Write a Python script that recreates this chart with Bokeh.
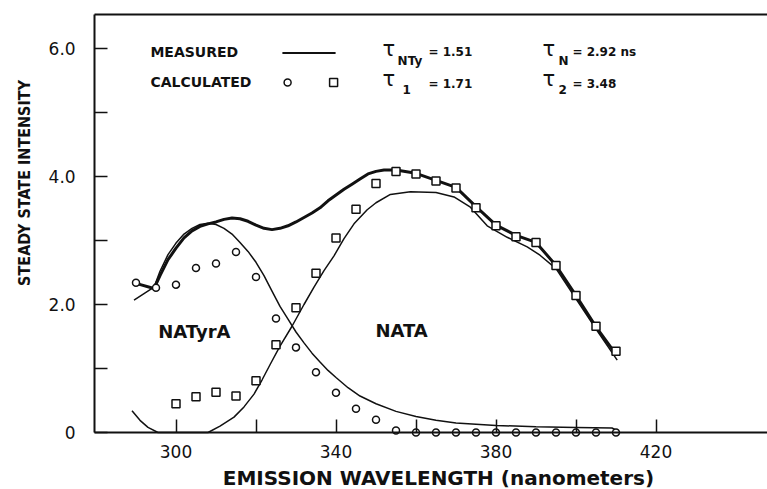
import math
from bokeh.plotting import figure
from bokeh.models import FixedTicker, CustomJSTickFormatter, Label, Range1d, LinearAxis
from bokeh.core.properties import value
from bokeh.embed import file_html
from bokeh.resources import INLINE

# ---------------- data ----------------
measured_x = [290, 294.5, 296, 298, 300, 302, 304, 306, 308, 310, 312, 314, 316, 318, 320,
              322, 324, 326, 328, 330, 332, 334, 336, 338, 340, 342, 344, 346, 348, 350,
              352, 355, 360, 365, 370, 375, 380, 385, 390, 395, 400, 405, 410]
measured_y = [2.33, 2.25, 2.45, 2.70, 2.88, 3.04, 3.15, 3.22, 3.26, 3.29, 3.33, 3.35, 3.34, 3.30, 3.24,
              3.19, 3.17, 3.19, 3.23, 3.29, 3.36, 3.43, 3.51, 3.62, 3.71, 3.80, 3.88, 3.96, 4.04, 4.08,
              4.10, 4.10, 4.05, 3.94, 3.83, 3.53, 3.24, 3.08, 2.97, 2.61, 2.14, 1.65, 1.22]

natyra_x = [289.5, 292, 294.5, 296, 298, 300, 302, 304, 306, 308, 310, 312, 314, 316, 318, 320,
            322, 324, 326, 328, 330, 332, 334, 336, 338, 340, 343, 346, 350, 355, 360, 365, 370,
            380, 390, 400, 409, 410.5]
natyra_y = [2.07, 2.17, 2.27, 2.52, 2.78, 2.96, 3.10, 3.19, 3.25, 3.27, 3.25, 3.19, 3.10, 2.97, 2.83, 2.66,
            2.45, 2.21, 1.97, 1.77, 1.57, 1.40, 1.24, 1.10, 0.97, 0.86, 0.70, 0.57, 0.45, 0.33, 0.25, 0.19, 0.15,
            0.11, 0.09, 0.08, 0.07, 0.02]

nata_x = [289, 291, 293, 295.5, 300, 304, 308, 311, 314.5, 317, 319.5, 321.5, 323.6, 326, 329, 332,
          334.5, 337, 339.5, 342, 344.5, 347.8, 350, 353.6, 358.6, 365, 369.5, 373.6, 377.8, 382.8,
          387.8, 391, 395, 400, 405.3, 410.3]
nata_y = [0.34, 0.19, 0.08, 0.0, 0.0, 0.0, 0.0, 0.10, 0.24, 0.40, 0.60, 0.82, 1.07, 1.35, 1.66, 2.00,
          2.27, 2.53, 2.76, 3.03, 3.26, 3.48, 3.59, 3.72, 3.76, 3.75, 3.68, 3.52, 3.23, 3.05,
          2.90, 2.77, 2.56, 2.09, 1.59, 1.13]

circle_x = [290, 295, 300, 305, 310, 315, 320, 325, 330, 335, 340, 345, 350, 355,
            360, 365, 370, 375, 380, 385, 390, 395, 400, 405, 410]
circle_y = [2.34, 2.26, 2.31, 2.57, 2.64, 2.82, 2.43, 1.78, 1.33, 0.94, 0.62, 0.37, 0.20, 0.03,
            0.0, 0.0, 0.0, 0.0, 0.0, 0.0, 0.0, 0.0, 0.0, 0.0, 0.0]

square_x = [300, 305, 310, 315, 320, 325, 330, 335, 340, 345, 350, 355, 360, 365, 370, 375,
            380, 385, 390, 395, 400, 405, 410]
square_y = [0.45, 0.56, 0.63, 0.57, 0.81, 1.37, 1.95, 2.49, 3.04, 3.49, 3.89, 4.08, 4.04, 3.93, 3.82, 3.51,
            3.23, 3.06, 2.97, 2.61, 2.14, 1.66, 1.27]

x_major_ticks = [300, 340, 380, 420]
x_minor_ticks = [320, 360, 400]
x_tick_labels = ["300", "340", "380", "420"]
y_major_ticks = [0, 2, 4, 6]
y_minor_ticks = [1, 3, 5]
y_tick_labels = ["0", "2.0", "4.0", "6.0"]

x_label = "EMISSION WAVELENGTH (nanometers)"
y_label = "STEADY STATE INTENSITY"

# ---------------- figure ----------------
INK = "#111111"
X0, X1 = 257.125, 447.875      # visible wavelength span of the frame
Y0, Y1 = -0.859375, 6.75       # visible intensity span of the frame
AXIS_X = 279.625               # where the intensity axis stands
TOP_Y = 6.53                   # top border of the box

p = figure(width=767, height=489, output_backend="svg", toolbar_location=None,
           x_range=Range1d(X0, X1), y_range=Range1d(Y0, Y1),
           x_axis_location=None, y_axis_location=None,
           min_border_left=4, min_border_right=0, min_border_top=0, min_border_bottom=2)
p.grid.visible = False
p.outline_line_color = None
p.background_fill_color = "white"
p.border_fill_color = "white"

blank = "return '';"
xa = LinearAxis(fixed_location=0, bounds=(AXIS_X, X1),
                ticker=FixedTicker(ticks=x_major_ticks, minor_ticks=x_minor_ticks),
                formatter=CustomJSTickFormatter(code=blank))
ya = LinearAxis(fixed_location=AXIS_X, bounds=(0, TOP_Y),
                ticker=FixedTicker(ticks=y_major_ticks, minor_ticks=y_minor_ticks),
                formatter=CustomJSTickFormatter(code=blank))
for ax in (xa, ya):
    ax.axis_line_width = 2
    ax.axis_line_color = INK
    ax.major_tick_in = 13
    ax.major_tick_out = 0
    ax.minor_tick_in = 13
    ax.minor_tick_out = 0
    ax.major_tick_line_width = 1.5
    ax.minor_tick_line_width = 1.5
    ax.major_tick_line_color = INK
    ax.minor_tick_line_color = INK
    ax.major_label_standoff = 0
    ax.major_label_text_font_size = "0px"
p.add_layout(xa, "below")
p.add_layout(ya, "left")

# top border line of the box
p.line([AXIS_X, X1], [TOP_Y, TOP_Y], line_color=INK, line_width=2)

# tick labels
p.text(x=x_major_ticks, y=[-0.30] * len(x_major_ticks), text=x_tick_labels,
       text_font=value("DejaVu Sans"), text_font_size=value("17px"), text_color=INK,
       text_align="center", text_baseline="middle")
p.text(x=[274.9] * len(y_major_ticks), y=y_major_ticks, text=y_tick_labels,
       text_font=value("DejaVu Sans"), text_font_size=value("17px"), text_color=INK,
       text_align="right", text_baseline="middle")

# curves
p.line(nata_x, nata_y, line_color=INK, line_width=1.5)
p.line(natyra_x, natyra_y, line_color=INK, line_width=1.5)
p.line(measured_x, measured_y, line_color=INK, line_width=3)

# calculated points
p.scatter(circle_x, circle_y, marker="circle", size=7, fill_color="white",
          line_color=INK, line_width=1.5)
p.scatter(square_x, square_y, marker="square", size=8, fill_color="white",
          line_color=INK, line_width=1.5)

# ---------------- legend / annotations ----------------
def lab(x, y, text, size, bold=True, font="DejaVu Sans", align="left", angle=0.0,
        baseline="middle"):
    p.add_layout(Label(x=x, y=y, text=text, text_font=font, text_font_size=size,
                       text_font_style="bold" if bold else "normal", text_color=INK,
                       text_align=align, text_baseline=baseline, angle=angle))

lab(293.6, 5.94, "MEASURED", "14px")
lab(293.6, 5.47, "CALCULATED", "14px")
legend_line_x = [326.6, 339.9]
legend_line_y = [5.93, 5.93]
p.line(legend_line_x, legend_line_y, line_color=INK, line_width=2)
p.scatter([327.9], [5.47], marker="circle", size=7, fill_color="white", line_color=INK, line_width=1.5)
p.scatter([339.4], [5.47], marker="square", size=8, fill_color="white", line_color=INK, line_width=1.5)

lab(351.6, 6.0, "τ", "21px", bold=False)
lab(355.4, 5.81, "NTy", "12px")
lab(363.1, 5.95, "= 1.51", "12px")
lab(391.6, 6.0, "τ", "21px", bold=False)
lab(395.6, 5.81, "N", "12px")
lab(399.1, 5.95, "= 2.92 ns", "12px")

lab(351.6, 5.52, "τ", "21px", bold=False)
lab(356.6, 5.36, "1", "12px")
lab(363.1, 5.45, "= 1.71", "12px")
lab(391.6, 5.52, "τ", "21px", bold=False)
lab(395.6, 5.36, "2", "12px")
lab(399.1, 5.45, "= 3.48", "12px")

lab(304.6, 1.58, "NATyrA", "18px", align="center")
lab(356.4, 1.59, "NATA", "18px", align="center")

# axis titles
lab(365.6, -0.516, x_label, "20px", align="center", baseline="top")
lab(262.1, 3.90, y_label, "16px", font="DejaVu Sans Condensed", align="center",
    angle=math.pi / 2)

open("out.html", "w").write(file_html(p, INLINE))
